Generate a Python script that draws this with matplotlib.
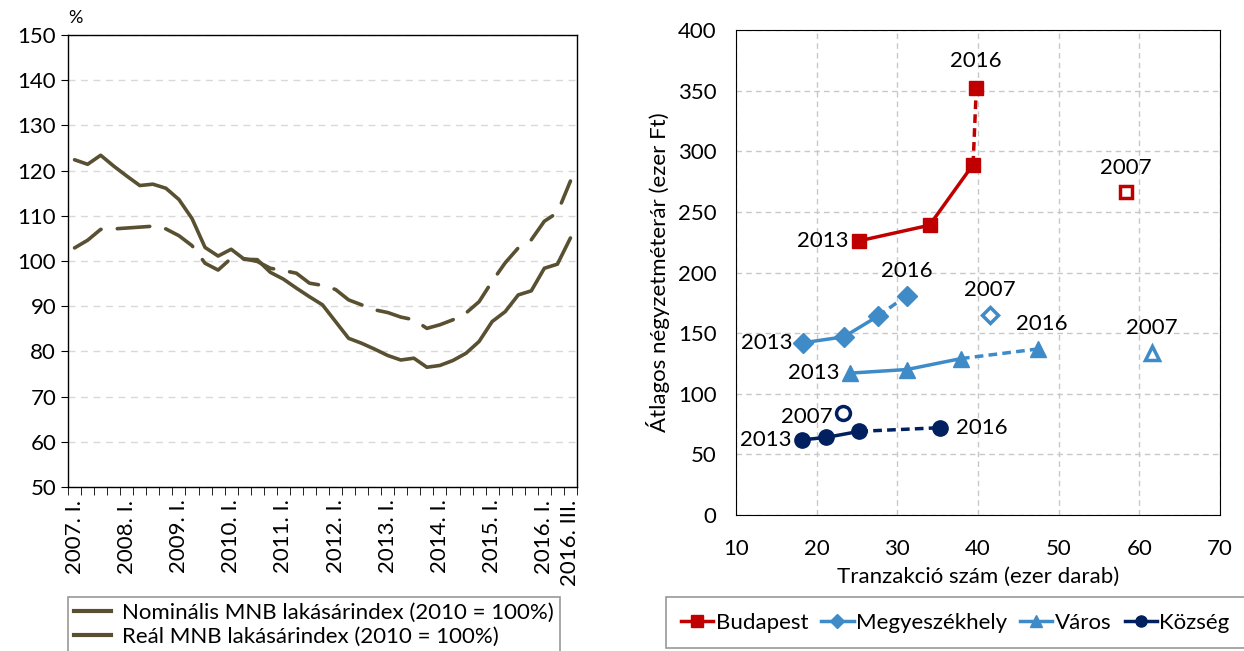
import numpy as np
import matplotlib.pyplot as plt
from matplotlib.lines import Line2D

plt.rcParams['font.family'] = ['Lato', 'DejaVu Sans']

# quarterly index, 2007 Q1 .. 2016 Q3
nominal = [102.9, 104.6, 107.0, 107.1, 107.3, 107.5, 107.7, 107.1, 105.6, 103.4,
           99.5, 98.0, 100.6, 100.5, 99.9, 98.4, 97.9, 97.3, 95.1, 94.6,
           93.7, 91.4, 90.3, 89.2, 88.6, 87.6, 87.0, 85.1, 85.9, 87.0,
           88.5, 91.0, 95.5, 99.6, 102.9, 104.7, 108.8, 110.7, 117.7]
real = [122.4, 121.4, 123.4, 121.0, 118.8, 116.7, 117.0, 116.1, 113.6, 109.4,
        103.0, 101.1, 102.6, 100.4, 100.3, 97.5, 96.0, 94.0, 92.1, 90.3,
        86.6, 82.9, 81.8, 80.5, 79.1, 78.1, 78.5, 76.5, 76.9, 78.0,
        79.6, 82.2, 86.6, 88.8, 92.5, 93.4, 98.4, 99.3, 105.1]
quarter_labels = ['2007. I.', '2008. I.', '2009. I.', '2010. I.', '2011. I.', '2012. I.',
                  '2013. I.', '2014. I.', '2015. I.', '2016. I.', '2016. III.']
label_pos = [0, 4, 8, 12, 16, 20, 24, 28, 32, 36, 38]

# scatter: (transactions, price) for 2013, 2014, 2015, 2016 and 2007
bp_x = [25.2, 34.0, 39.4, 39.8]
bp_y = [226, 239, 289, 352]
bp_2007 = (58.3, 266)
megy_x = [18.3, 23.4, 27.6, 31.2]
megy_y = [142, 147, 164, 181]
megy_2007 = (41.5, 165)
varos_x = [24.1, 31.2, 37.9, 47.5]
varos_y = [117, 120, 129, 137]
varos_2007 = (61.6, 134)
kozs_x = [18.2, 21.2, 25.3, 35.3]
kozs_y = [62, 64, 69, 72]
kozs_2007 = (23.3, 84)

olive = '#595032'
red = '#C00000'
blue = '#3E8BC8'
navy = '#002060'
fs = 16

fig = plt.figure(figsize=(12.44, 6.51), dpi=100)

# ---- left chart
ax1 = fig.add_axes([0.0547, 0.2519, 0.4091, 0.6943])
x = np.arange(len(real))
ax1.plot(x, nominal, color=olive, lw=2.6, dashes=(9, 4.5), dash_capstyle='round')
ax1.plot(x, real, color=olive, lw=2.6, solid_capstyle='round')
ax1.set_xlim(-0.5, len(real) - 0.5)
ax1.set_ylim(50, 150)
ax1.set_yticks(range(50, 151, 10))
ax1.yaxis.grid(True, color='#d9d9d9', ls=(0, (5, 4)), lw=1)
ax1.set_xticks(label_pos)
ax1.set_xticklabels(quarter_labels, rotation=90, fontsize=fs)
ax1.set_xticks(np.arange(-0.5, len(real), 1), minor=True)
ax1.tick_params(axis='x', which='major', length=0, pad=9)
ax1.tick_params(axis='x', which='minor', length=6, direction='out')
ax1.tick_params(axis='y', labelsize=fs, length=5)
for s in ax1.spines.values():
    s.set_linewidth(1)
ax1.text(0.0, 1.02, '%', transform=ax1.transAxes, fontsize=fs - 3, ha='left', va='bottom')

h = [Line2D([], [], color=olive, lw=3), Line2D([], [], color=olive, lw=3)]
leg1 = fig.legend(h, ['Nominális MNB lakásárindex (2010 = 100%)',
                      'Reál MNB lakásárindex (2010 = 100%)'],
                  loc='upper left', bbox_to_anchor=(0.0547, 0.083), fontsize=fs,
                  frameon=True, fancybox=False, edgecolor='#7f7f7f',
                  handlelength=1.7, handletextpad=0.5, labelspacing=0.2,
                  borderpad=0.25, borderaxespad=0)
leg1.get_frame().set_linewidth(1.2)

# ---- right chart
ax2 = fig.add_axes([0.5916, 0.2089, 0.389, 0.745])
ax2.set_xlim(10, 70)
ax2.set_ylim(0, 400)
ax2.set_xticks(range(10, 71, 10))
ax2.set_yticks(range(0, 401, 50))
ax2.grid(True, color='#c8c8c8', ls=(0, (4, 3)), lw=1)
ax2.set_axisbelow(True)
ax2.tick_params(labelsize=fs, length=0)
ax2.tick_params(axis='x', pad=17)
ax2.tick_params(axis='y', pad=14)

series = [(bp_x, bp_y, bp_2007, red, 's', 10, 9),
          (megy_x, megy_y, megy_2007, blue, 'D', 10, 8),
          (varos_x, varos_y, varos_2007, blue, '^', 11, 10),
          (kozs_x, kozs_y, kozs_2007, navy, 'o', 11, 10)]
for sx, sy, s07, c, m, ms, ms07 in series:
    ax2.plot(sx[:3], sy[:3], color=c, lw=2.5, marker=m, ms=ms, zorder=3)
    ax2.plot(sx[2:], sy[2:], color=c, lw=2.5, ls=(0, (2.5, 1.5)), zorder=2)
    ax2.plot(sx[3], sy[3], color=c, marker=m, ms=ms, zorder=3)
    ax2.plot(s07[0], s07[1], ls='none', marker=m, ms=ms07, mfc='white',
             mec=c, mew=2.5, zorder=3)

txt = dict(fontsize=fs)
ax2.text(bp_x[0] - 1.3, bp_y[0], '2013', ha='right', va='center', **txt)
ax2.text(bp_x[3], bp_y[3] + 14, '2016', ha='center', va='bottom', **txt)
ax2.text(bp_2007[0], bp_2007[1] + 12, '2007', ha='center', va='bottom', **txt)
ax2.text(megy_x[0] - 1.3, megy_y[0], '2013', ha='right', va='center', **txt)
ax2.text(megy_x[3], megy_y[3] + 12, '2016', ha='center', va='bottom', **txt)
ax2.text(megy_2007[0], megy_2007[1] + 12, '2007', ha='center', va='bottom', **txt)
ax2.text(varos_x[0] - 1.3, varos_y[0], '2013', ha='right', va='center', **txt)
ax2.text(varos_x[3] + 0.4, varos_y[3] + 12, '2016', ha='center', va='bottom', **txt)
ax2.text(varos_2007[0], varos_2007[1] + 12, '2007', ha='center', va='bottom', **txt)
ax2.text(kozs_x[0] - 1.3, kozs_y[0], '2013', ha='right', va='center', **txt)
ax2.text(kozs_x[3] + 2.0, kozs_y[3], '2016', ha='left', va='center', **txt)
ax2.text(kozs_2007[0] - 1.3, kozs_2007[1] - 3, '2007', ha='right', va='center', **txt)

ax2.set_xlabel('Tranzakció szám (ezer darab)', fontsize=fs, labelpad=6)
ax2.set_ylabel('Átlagos négyzetméterár (ezer Ft)', fontsize=fs, labelpad=6)

h2 = [Line2D([], [], color=red, marker='s', ms=8, lw=2.5),
      Line2D([], [], color=blue, marker='D', ms=7, lw=2.5),
      Line2D([], [], color=blue, marker='^', ms=9, lw=2.5),
      Line2D([], [], color=navy, marker='o', ms=8, lw=2.5)]
leg2 = fig.legend(h2, ['Budapest', 'Megyeszékhely', 'Város', 'Község'],
                  loc='upper left', bbox_to_anchor=(0.535, 0.083), ncol=4,
                  fontsize=fs, frameon=True, fancybox=False, edgecolor='#7f7f7f',
                  handlelength=1.45, handletextpad=0.1, columnspacing=0.6,
                  borderpad=0.7, borderaxespad=0)
leg2.get_frame().set_linewidth(1.2)

fig.savefig('out.png', dpi=100)
